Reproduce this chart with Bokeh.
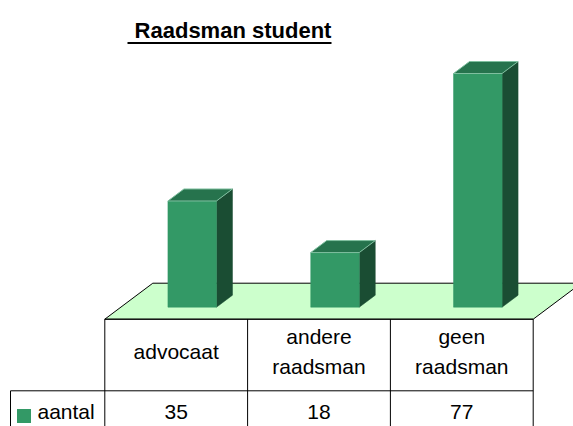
from bokeh.plotting import figure
from bokeh.models import Range1d
from bokeh.core.properties import value
from bokeh.embed import file_html
from bokeh.resources import INLINE

# ---- data ----
title = "Raadsman student"
categories = ["advocaat", "andere\nraadsman", "geen\nraadsman"]
series_name = "aantal"
counts = [35, 18, 77]

# ---- styles ----
FRONT = "#339966"
TOP = "#26734D"
SIDE = "#1A4D33"
FLOOR = "#CCFFCC"
FONT = value("Liberation Sans")
TSIZE = "21px"

# ---- layout (page pixels -> data units) ----
W, H = 573, 426
ORIGIN = 0              # page offset of the canvas
TXT = -8                # baseline correction for svg text
COL_PX = 142.8          # pixel width of one category column
TABLE_LEFT_PX = 104.3   # page x of table / floor left
PX_PER_UNIT = 3.035     # vertical pixels per count
BASE_PX = 306.7         # page y of count 0 at bar front


def X(px):
    return (px - TABLE_LEFT_PX) / COL_PX


def Y(py):
    return (BASE_PX - py) / PX_PER_UNIT


DX = 48 / COL_PX        # full floor depth, x offset
DY = 36 / PX_PER_UNIT   # full floor depth, y offset
n = len(categories)

p = figure(width=W, height=H, output_backend="svg", toolbar_location=None,
           x_range=Range1d(X(ORIGIN), X(ORIGIN + W)),
           y_range=Range1d(Y(ORIGIN + H), Y(ORIGIN)),
           min_border=0)
p.axis.visible = False
p.grid.visible = False
p.outline_line_color = None
p.background_fill_color = "white"
p.border_fill_color = "white"

# floor (depth 0..1); bars stand at depth 1/3..2/3 with count 0 at their front
yf = -DY / 3
p.patch([0, n, n + DX, DX], [yf, yf, yf + DY, yf + DY],
        fill_color=FLOOR, line_color="black", line_width=1)

# 3D bars
half = 0.17
bd = DX / 3
bdy = DY / 3
for i, v in enumerate(counts):
    c = i + 0.5 + DX / 3
    L, R = c - half, c + half
    p.patch([R, R + bd, R + bd, R], [0, bdy, v + bdy, v],
            fill_color=SIDE, line_color=SIDE, line_width=0.5)
    p.quad(left=[L], right=[R], bottom=[0], top=[v],
           fill_color=FRONT, line_color=FRONT, line_width=0.5)
    p.patch([L, R, R + bd, L + bd], [v, v, v + bdy, v + bdy],
            fill_color=TOP, line_color="#7FBF9F", line_width=1)

# data table grid
row1 = Y(390.3)
bottom = Y(470)
xs = [[0, n], [X(10), n]]
ys = [[yf, yf], [row1, row1]]
for k in range(n + 1):
    xs.append([k, k])
    ys.append([yf, bottom])
xs.append([X(10), X(10)])
ys.append([row1, bottom])
p.multi_line(xs, ys, line_color="black", line_width=1)

# header labels
for i, cat in enumerate(categories):
    lines = cat.split("\n")
    m = len(lines)
    for j, ln in enumerate(lines):
        base = 359.3 + (j - (m - 1) / 2) * 30
        p.text(x=[i + 0.5], y=[Y(base + TXT)], text=[ln], text_font=FONT,
               text_font_size=TSIZE, text_align="center",
               text_baseline="alphabetic", text_color="black")

# values row
p.text(x=[i + 0.5 for i in range(n)], y=[Y(419.3 + TXT)] * n,
       text=[str(v) for v in counts], text_font=FONT, text_font_size=TSIZE,
       text_align="center", text_baseline="alphabetic", text_color="black")

# legend key + series name
p.quad(left=[X(16.5)], right=[X(30.5)], bottom=[Y(422.5)], top=[Y(408.5)],
       fill_color=FRONT, line_color=None)
p.text(x=[X(37)], y=[Y(419.3 + TXT)], text=[series_name], text_font=FONT,
       text_font_size=TSIZE, text_align="left", text_baseline="alphabetic",
       text_color="black")

# title, bold + underlined
p.text(x=[X(232.5)], y=[Y(37.7 + TXT)], text=[title], text_font=FONT,
       text_font_size="22px", text_font_style="bold", text_align="center",
       text_baseline="alphabetic", text_color="black")
p.line([X(127), X(331)], [Y(42.5), Y(42.5)], line_color="black", line_width=2)

open("out.html", "w").write(file_html(p, INLINE))
